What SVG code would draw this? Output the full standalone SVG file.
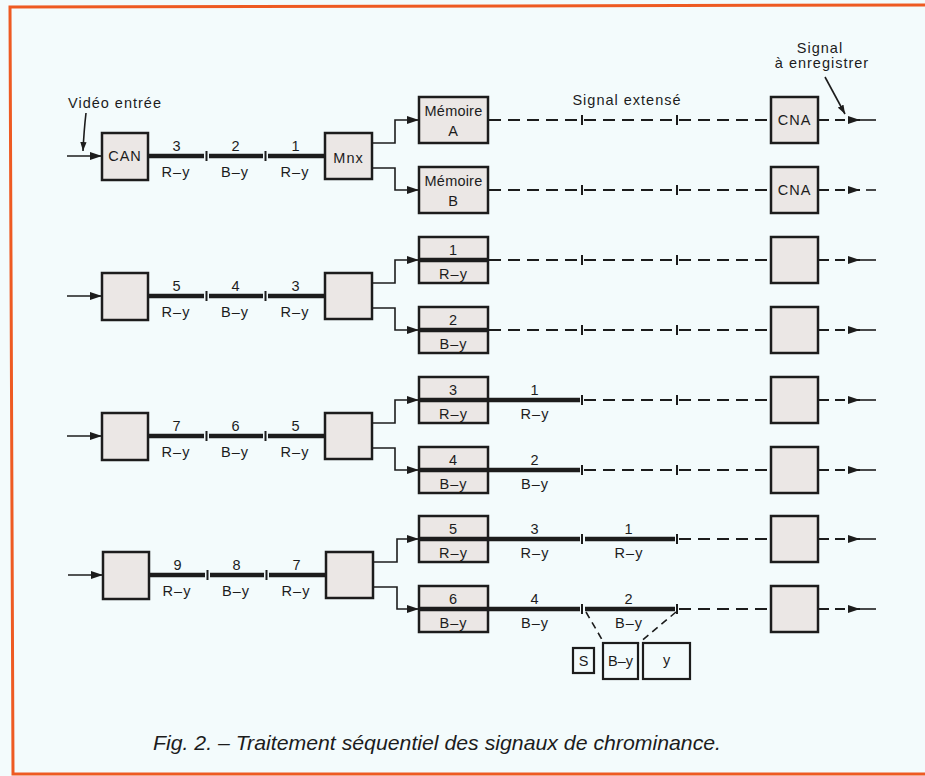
<svg xmlns="http://www.w3.org/2000/svg" width="925" height="776" viewBox="0 0 925 776">
<style>
.bg{fill:#f3fbfc}
.frame{fill:none;stroke:#ee5a22;stroke-width:3}
.box{fill:#ebe7e5;stroke:#1c1c1c;stroke-width:2.5}
.sbox{fill:#f3fbfc;stroke:#1c1c1c;stroke-width:2.2}
.thin{fill:none;stroke:#1c1c1c;stroke-width:1.6}
.thick{fill:none;stroke:#1c1c1c;stroke-width:4.5}
.dash{fill:none;stroke:#1c1c1c;stroke-width:1.8;stroke-dasharray:12 7}
.odash{fill:none;stroke:#1c1c1c;stroke-width:1.8;stroke-dasharray:10 6}
.tick{stroke:#1c1c1c;stroke-width:2}
text{font-family:"Liberation Sans",Arial,sans-serif;font-size:14.5px;fill:#1c1c1c;letter-spacing:1px}
.c{text-anchor:middle}
.cap{font-family:"Liberation Sans",Arial,sans-serif;font-style:italic;font-size:21px;letter-spacing:0}
</style>
<defs>
<marker id="ah" viewBox="0 0 12 8" refX="12" refY="4" markerWidth="12" markerHeight="8" markerUnits="userSpaceOnUse" orient="auto"><path d="M0,0 L12,4 L0,8 z" fill="#1c1c1c"/></marker>
<marker id="ahs" viewBox="0 0 10 7" refX="10" refY="3.5" markerWidth="9" markerHeight="7" markerUnits="userSpaceOnUse" orient="auto"><path d="M0,0 L10,3.5 L0,7 z" fill="#1c1c1c"/></marker>
</defs>
<rect class="bg" x="0" y="0" width="925" height="776"/>
<path class="frame" d="M925 5 L10 7 L13 774 L925 774"/>

<!-- free labels -->
<g id="labels">
<text x="68" y="108">Vidéo entrée</text>
<text class="c" x="627" y="105">Signal extensé</text>
<text class="c" x="820" y="53">Signal</text>
<text class="c" x="822" y="68">à enregistrer</text>
<text class="cap" x="153" y="750" textLength="568" lengthAdjust="spacingAndGlyphs">Fig. 2. – Traitement séquentiel des signaux de chrominance.</text>
</g>

<!-- ===== nodes ===== -->
<g id="can"><rect class="box" x="102" y="133" width="46" height="47"/><text class="c" x="125" y="161">CAN</text></g>
<g id="mnx"><rect class="box" x="325" y="133" width="47" height="46"/><text class="c" x="348.5" y="163">Mnx</text></g>
<g id="memA"><rect class="box" x="419" y="97" width="69" height="46"/><text class="c" x="453.5" y="116" style="letter-spacing:0.2px">Mémoire</text><text class="c" x="453.5" y="136">A</text></g>
<g id="memB"><rect class="box" x="419" y="167" width="69" height="46"/><text class="c" x="453.5" y="186" style="letter-spacing:0.2px">Mémoire</text><text class="c" x="453.5" y="206">B</text></g>
<g id="cnaA"><rect class="box" x="771" y="97" width="47" height="46"/><text class="c" x="794.5" y="125">CNA</text></g>
<g id="cnaB"><rect class="box" x="771" y="167" width="47" height="46"/><text class="c" x="794.5" y="195">CNA</text></g>

<g id="in2"><rect class="box" x="102" y="273" width="46" height="47"/></g>
<g id="mux2"><rect class="box" x="325" y="273" width="47" height="46"/></g>
<g id="mem2a"><rect class="box" x="419" y="237" width="69" height="46"/><text class="c" x="453.5" y="255">1</text><text class="c" x="453.5" y="279">R–y</text></g>
<g id="mem2b"><rect class="box" x="419" y="307" width="69" height="46"/><text class="c" x="453.5" y="325">2</text><text class="c" x="453.5" y="349">B–y</text></g>
<g id="out2a"><rect class="box" x="771" y="237" width="47" height="46"/></g>
<g id="out2b"><rect class="box" x="771" y="307" width="47" height="46"/></g>

<g id="in3"><rect class="box" x="102" y="413" width="46" height="47"/></g>
<g id="mux3"><rect class="box" x="325" y="413" width="47" height="46"/></g>
<g id="mem3a"><rect class="box" x="419" y="377" width="69" height="46"/><text class="c" x="453.5" y="395">3</text><text class="c" x="453.5" y="419">R–y</text></g>
<g id="mem3b"><rect class="box" x="419" y="447" width="69" height="46"/><text class="c" x="453.5" y="465">4</text><text class="c" x="453.5" y="489">B–y</text></g>
<g id="out3a"><rect class="box" x="771" y="377" width="47" height="46"/></g>
<g id="out3b"><rect class="box" x="771" y="447" width="47" height="46"/></g>

<g id="in4"><rect class="box" x="103" y="552" width="46" height="47"/></g>
<g id="mux4"><rect class="box" x="326" y="552" width="47" height="46"/></g>
<g id="mem4a"><rect class="box" x="419" y="516" width="69" height="46"/><text class="c" x="453.5" y="534">5</text><text class="c" x="453.5" y="558">R–y</text></g>
<g id="mem4b"><rect class="box" x="419" y="586" width="69" height="46"/><text class="c" x="453.5" y="604">6</text><text class="c" x="453.5" y="628">B–y</text></g>
<g id="out4a"><rect class="box" x="771" y="516" width="47" height="46"/></g>
<g id="out4b"><rect class="box" x="771" y="586" width="47" height="46"/></g>

<g id="fmtS"><rect class="sbox" x="573" y="648" width="21" height="25"/><text class="c" x="583.5" y="666" style="letter-spacing:0">S</text></g>
<g id="fmtBy"><rect class="sbox" x="603" y="643" width="35" height="36"/><text class="c" x="620.5" y="666" style="letter-spacing:0">B–y</text></g>
<g id="fmtY"><rect class="sbox" x="643" y="643" width="47" height="36"/><text class="c" x="666.5" y="665" style="letter-spacing:0">y</text></g>

<!-- ===== connectors ===== -->
<g id="connectors">
<path class="thin" d="M86 113 Q84 130 83 151" marker-end="url(#ahs)"/>
<path class="thin" d="M825 77 L845 114" marker-end="url(#ahs)"/>

<path class="thin" d="M67 156 H102" marker-end="url(#ah)"/>
<path class="thin" d="M67 296 H102" marker-end="url(#ah)"/>
<path class="thin" d="M67 436 H102" marker-end="url(#ah)"/>
<path class="thin" d="M68 575 H103" marker-end="url(#ah)"/>

<g id="seq">
<path class="thick" d="M148 156 H204 M209 156 H263 M268 156 H325"/>
<path class="tick" d="M206.5 151 V161 M265.5 151 V161"/>
<path class="thick" d="M148 296 H204 M209 296 H263 M268 296 H325"/>
<path class="tick" d="M206.5 291 V301 M265.5 291 V301"/>
<path class="thick" d="M148 436 H204 M209 436 H263 M268 436 H325"/>
<path class="tick" d="M206.5 431 V441 M265.5 431 V441"/>
<path class="thick" d="M149 575 H205 M210 575 H264 M269 575 H326"/>
<path class="tick" d="M207.5 570 V580 M266.5 570 V580"/>
</g>
<g id="seqlabels">
<text class="c" x="177" y="151">3</text><text class="c" x="236" y="151">2</text><text class="c" x="296" y="151">1</text>
<text class="c" x="176" y="177">R–y</text><text class="c" x="235" y="177">B–y</text><text class="c" x="295" y="177">R–y</text>
<text class="c" x="177" y="291">5</text><text class="c" x="236" y="291">4</text><text class="c" x="296" y="291">3</text>
<text class="c" x="176" y="317">R–y</text><text class="c" x="235" y="317">B–y</text><text class="c" x="295" y="317">R–y</text>
<text class="c" x="177" y="431">7</text><text class="c" x="236" y="431">6</text><text class="c" x="296" y="431">5</text>
<text class="c" x="176" y="457">R–y</text><text class="c" x="235" y="457">B–y</text><text class="c" x="295" y="457">R–y</text>
<text class="c" x="178" y="570">9</text><text class="c" x="237" y="570">8</text><text class="c" x="297" y="570">7</text>
<text class="c" x="177" y="596">R–y</text><text class="c" x="236" y="596">B–y</text><text class="c" x="296" y="596">R–y</text>
</g>

<path class="thin" d="M372 143 H395 V120 H419" marker-end="url(#ah)"/>
<path class="thin" d="M372 168 H395 V190 H419" marker-end="url(#ah)"/>
<path class="thin" d="M372 283 H395 V260 H419" marker-end="url(#ah)"/>
<path class="thin" d="M372 308 H395 V330 H419" marker-end="url(#ah)"/>
<path class="thin" d="M372 423 H395 V400 H419" marker-end="url(#ah)"/>
<path class="thin" d="M372 448 H395 V470 H419" marker-end="url(#ah)"/>
<path class="thin" d="M373 562 H397 V539 H419" marker-end="url(#ah)"/>
<path class="thin" d="M373 587 H397 V609 H419" marker-end="url(#ah)"/>

<path class="thick" d="M420 260 H487 M420 330 H487 M420 400 H487 M420 470 H487 M420 539 H487 M420 609 H487"/>

<path class="dash" d="M489 120 H580 M584 120 H675 M679 120 H771"/>
<path class="dash" d="M489 190 H580 M584 190 H675 M679 190 H771"/>
<path class="dash" d="M489 260 H580 M584 260 H675 M679 260 H771"/>
<path class="dash" d="M489 330 H580 M584 330 H675 M679 330 H771"/>
<path class="thick" d="M488 400 H580 M488 470 H580"/>
<path class="dash" d="M584 400 H675 M679 400 H771"/>
<path class="dash" d="M584 470 H675 M679 470 H771"/>
<path class="thick" d="M488 539 H580 M585 539 H675 M488 609 H580 M585 609 H675"/>
<path class="dash" d="M679 539 H771 M679 609 H771"/>
<path class="tick" d="M582 115 V125 M677 115 V125 M582 185 V195 M677 185 V195 M582 255 V265 M677 255 V265 M582 325 V335 M677 325 V335 M582 395 V405 M677 395 V405 M582 465 V475 M677 465 V475 M582 534 V544 M677 534 V544 M582 604 V614 M677 604 V614"/>

<text class="c" x="535" y="395">1</text><text class="c" x="535" y="419">R–y</text>
<text class="c" x="535" y="465">2</text><text class="c" x="535" y="489">B–y</text>
<text class="c" x="535" y="534">3</text><text class="c" x="535" y="558">R–y</text>
<text class="c" x="629" y="534">1</text><text class="c" x="629" y="558">R–y</text>
<text class="c" x="535" y="604">4</text><text class="c" x="535" y="628">B–y</text>
<text class="c" x="629" y="604">2</text><text class="c" x="629" y="628">B–y</text>

<path class="thin" style="stroke-dasharray:7 5" d="M586 612 L604 643 M676 612 L639 643"/>

<path class="odash" d="M819 120 H860" marker-end="url(#ah)"/><path class="thin" d="M860 120 H876"/>
<path class="odash" d="M819 190 H860" marker-end="url(#ah)"/><path class="thin" d="M866 190 H876"/>
<path class="odash" d="M819 260 H860" marker-end="url(#ah)"/><path class="thin" d="M860 260 H876"/>
<path class="odash" d="M819 330 H860" marker-end="url(#ah)"/><path class="thin" d="M860 330 H876"/>
<path class="odash" d="M819 400 H860" marker-end="url(#ah)"/><path class="thin" d="M860 400 H876"/>
<path class="odash" d="M819 470 H860" marker-end="url(#ah)"/><path class="thin" d="M860 470 H876"/>
<path class="odash" d="M819 539 H860" marker-end="url(#ah)"/><path class="thin" d="M860 539 H876"/>
<path class="odash" d="M819 609 H860" marker-end="url(#ah)"/><path class="thin" d="M860 609 H876"/>
</g>
</svg>
